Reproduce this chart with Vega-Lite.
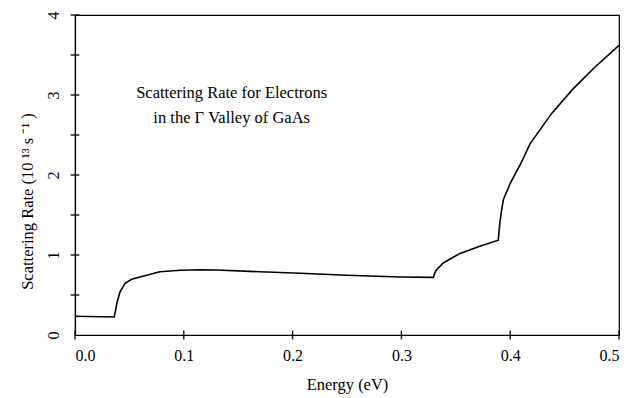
{
  "$schema": "https://vega.github.io/schema/vega-lite/v6.json",
  "autosize": {"type": "none"},
  "padding": {"left": 75, "top": 15, "right": 9, "bottom": 63},
  "width": 544,
  "height": 320,
  "background": "white",
  "config": {
    "view": {"stroke": "black", "strokeWidth": 1.2},
    "font": "Liberation Serif",
    "axis": {
      "grid": false,
      "domainColor": "black",
      "domainWidth": 1.2,
      "tickColor": "transparent",
      "labelFont": "Liberation Serif",
      "titleFont": "Liberation Serif",
      "labelColor": "black",
      "titleColor": "black",
      "labelFontSize": 16,
      "titleFontSize": 16.5,
      "titleFontWeight": "normal"
    }
  },
  "layer": [
    {
      "data": {
        "values": [
          {"energy": 0.0, "rate": 0.235},
          {"energy": 0.036, "rate": 0.225},
          {"energy": 0.0372, "rate": 0.3},
          {"energy": 0.0385, "rate": 0.4},
          {"energy": 0.0414, "rate": 0.54},
          {"energy": 0.046, "rate": 0.645},
          {"energy": 0.052, "rate": 0.696},
          {"energy": 0.065, "rate": 0.745},
          {"energy": 0.078, "rate": 0.79},
          {"energy": 0.097, "rate": 0.81},
          {"energy": 0.115, "rate": 0.815},
          {"energy": 0.13, "rate": 0.812},
          {"energy": 0.17, "rate": 0.79},
          {"energy": 0.207, "rate": 0.771},
          {"energy": 0.25, "rate": 0.747},
          {"energy": 0.299, "rate": 0.725},
          {"energy": 0.3295, "rate": 0.72},
          {"energy": 0.3305, "rate": 0.77},
          {"energy": 0.332, "rate": 0.81},
          {"energy": 0.3385, "rate": 0.9},
          {"energy": 0.346, "rate": 0.96},
          {"energy": 0.354, "rate": 1.02},
          {"energy": 0.372, "rate": 1.11},
          {"energy": 0.389, "rate": 1.185},
          {"energy": 0.3905, "rate": 1.4},
          {"energy": 0.392, "rate": 1.55},
          {"energy": 0.3937, "rate": 1.69},
          {"energy": 0.3998, "rate": 1.89},
          {"energy": 0.41, "rate": 2.15},
          {"energy": 0.4182, "rate": 2.39},
          {"energy": 0.4381, "rate": 2.77},
          {"energy": 0.458, "rate": 3.08},
          {"energy": 0.478, "rate": 3.35},
          {"energy": 0.5, "rate": 3.62}
        ]
      },
      "mark": {"type": "line", "color": "black", "strokeWidth": 1.6, "interpolate": "linear"},
      "encoding": {
        "x": {
          "field": "energy",
          "type": "quantitative",
          "scale": {"domain": [0, 0.5], "nice": false},
          "axis": {
            "title": "Energy (eV)",
            "values": [0, 0.1, 0.2, 0.3, 0.4, 0.5],
            "format": ".1f",
            "tickSize": 5,
            "labelPadding": 7,
            "titlePadding": 13
          }
        },
        "y": {
          "field": "rate",
          "type": "quantitative",
          "scale": {"domain": [0, 4], "nice": false},
          "axis": {
            "title": "Scattering Rate (10 ¹³   s  ⁻¹  )",
            "values": [0, 0.5, 1, 1.5, 2, 2.5, 3, 3.5, 4],
            "labelExpr": "datum.value % 1 === 0 ? format(datum.value, 'd') : ''",
            "labelAngle": -90,
            "labelAlign": "center",
            "labelBaseline": "bottom",
            "tickSize": 5,
            "labelPadding": 9,
            "titleY": 186,
            "titleX": -43,
            "titleAngle": -90,
            "titleBaseline": "alphabetic"
          }
        }
      }
    },
    {
      "data": {"values": [{"tick": 0.0}, {"tick": 0.1}, {"tick": 0.2}, {"tick": 0.3}, {"tick": 0.4}, {"tick": 0.5}]},
      "mark": {"type": "rule", "color": "black", "strokeWidth": 1.3, "clip": false},
      "encoding": {
        "x": {"field": "tick", "type": "quantitative"},
        "y": {"datum": -0.055},
        "y2": {"datum": 0.055}
      }
    },
    {
      "data": {"values": [{"tick": 0.5}, {"tick": 1}, {"tick": 1.5}, {"tick": 2}, {"tick": 2.5}, {"tick": 3}, {"tick": 3.5}, {"tick": 4}]},
      "mark": {"type": "rule", "color": "black", "strokeWidth": 1.3, "clip": false},
      "encoding": {
        "y": {"field": "tick", "type": "quantitative"},
        "x": {"datum": -0.004},
        "x2": {"datum": 0.004}
      }
    },
    {
      "data": {
        "values": [
          {"energy": 0.144, "rate": 2.9625, "label": "Scattering Rate for Electrons"},
          {"energy": 0.144, "rate": 2.65, "label": "in the  Γ  Valley of GaAs"}
        ]
      },
      "mark": {"type": "text", "font": "Liberation Serif", "fontSize": 16.5, "color": "black", "align": "center", "baseline": "alphabetic"},
      "encoding": {
        "x": {"field": "energy", "type": "quantitative"},
        "y": {"field": "rate", "type": "quantitative"},
        "text": {"field": "label"}
      }
    }
  ]
}
